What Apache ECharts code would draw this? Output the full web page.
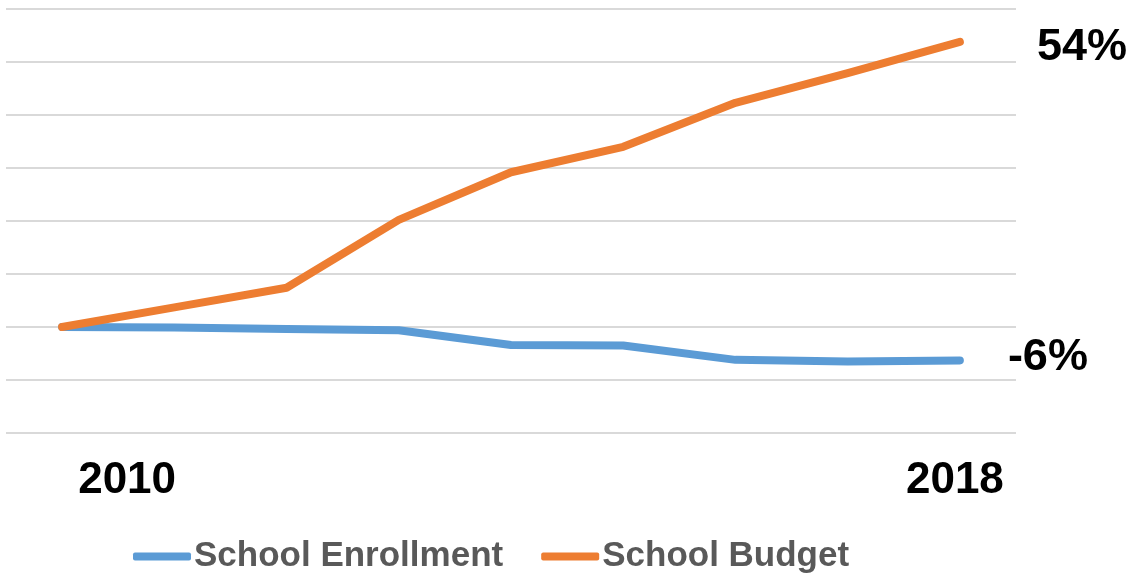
<!DOCTYPE html>
<html>
<head>
<meta charset="utf-8">
<script src="https://cdn.jsdelivr.net/npm/echarts@6/dist/echarts.min.js"></script>
<style>
html,body{margin:0;padding:0;background:#fff;}
#chart{width:1134px;height:577px;}
</style>
</head>
<body>
<div id="chart"></div>
<script>
var years = ['2010','2011','2012','2013','2014','2015','2016','2017','2018'];
var shownTickLabels = ['2010','2018'];
var enrollment = [0, -0.1, -0.4, -0.6, -3.4, -3.5, -6.2, -6.5, -6.3];
var budget = [0, 3.7, 7.4, 20.2, 29.2, 34.0, 42.3, 47.9, 53.8];
var seriesNames = ['School Enrollment', 'School Budget'];

var chart = echarts.init(document.getElementById('chart'), null, {renderer:'canvas'});
var labelFont = 'Liberation Sans, Arial, sans-serif';
chart.setOption({
  animation: false,
  backgroundColor: '#ffffff',
  grid: {left: 6, right: 118, top: 9, bottom: 144, containLabel: false},
  legend: {
    data: seriesNames,
    left: 128, top: 534,
    icon: 'roundRect',
    itemWidth: 58, itemHeight: 8,
    itemGap: 38,
    textStyle: {color: '#595959', fontSize: 35, fontWeight: 'bold', fontFamily: labelFont, padding: [0,0,0,-2]}
  },
  xAxis: {
    type: 'category',
    data: years,
    boundaryGap: true,
    axisLine: {show: false},
    axisTick: {show: false},
    axisLabel: {
      interval: 0,
      margin: 26,
      formatter: function (v, i) {
        if (shownTickLabels.indexOf(v) < 0) return '';
        return i === 0 ? '{l|' + v + '}' : '{r|' + v + '}';
      },
      rich: {
        l: {fontSize: 44, fontWeight: 'bold', color: '#000', fontFamily: labelFont, padding: [0,0,0,130]},
        r: {fontSize: 44, fontWeight: 'bold', color: '#000', fontFamily: labelFont, padding: [0,10,0,0]}
      }
    }
  },
  yAxis: {
    type: 'value',
    min: -20, max: 60, interval: 10,
    axisLabel: {show: false},
    axisLine: {show: false},
    axisTick: {show: false},
    splitLine: {lineStyle: {color: '#d9d9d9', width: 2}}
  },
  series: [
    {
      name: seriesNames[0], type: 'line', data: enrollment,
      showSymbol: false, symbol: 'none',
      lineStyle: {color: '#5B9BD5', width: 8, cap: 'round', join: 'round'},
      itemStyle: {color: '#5B9BD5'},
      endLabel: {
        show: true, distance: 48, offset: [0, -3],
        formatter: function (p) { return Math.round(p.value) + '%'; },
        fontSize: 45, fontWeight: 'bold', color: '#000', fontFamily: labelFont
      },
      z: 2
    },
    {
      name: seriesNames[1], type: 'line', data: budget,
      showSymbol: false, symbol: 'none',
      lineStyle: {color: '#ED7D31', width: 8, cap: 'round', join: 'round'},
      itemStyle: {color: '#ED7D31'},
      endLabel: {
        show: true, distance: 77, offset: [0, 6],
        formatter: function (p) { return Math.round(p.value) + '%'; },
        fontSize: 45, fontWeight: 'bold', color: '#000', fontFamily: labelFont
      },
      z: 3
    }
  ]
});
</script>
</body>
</html>
